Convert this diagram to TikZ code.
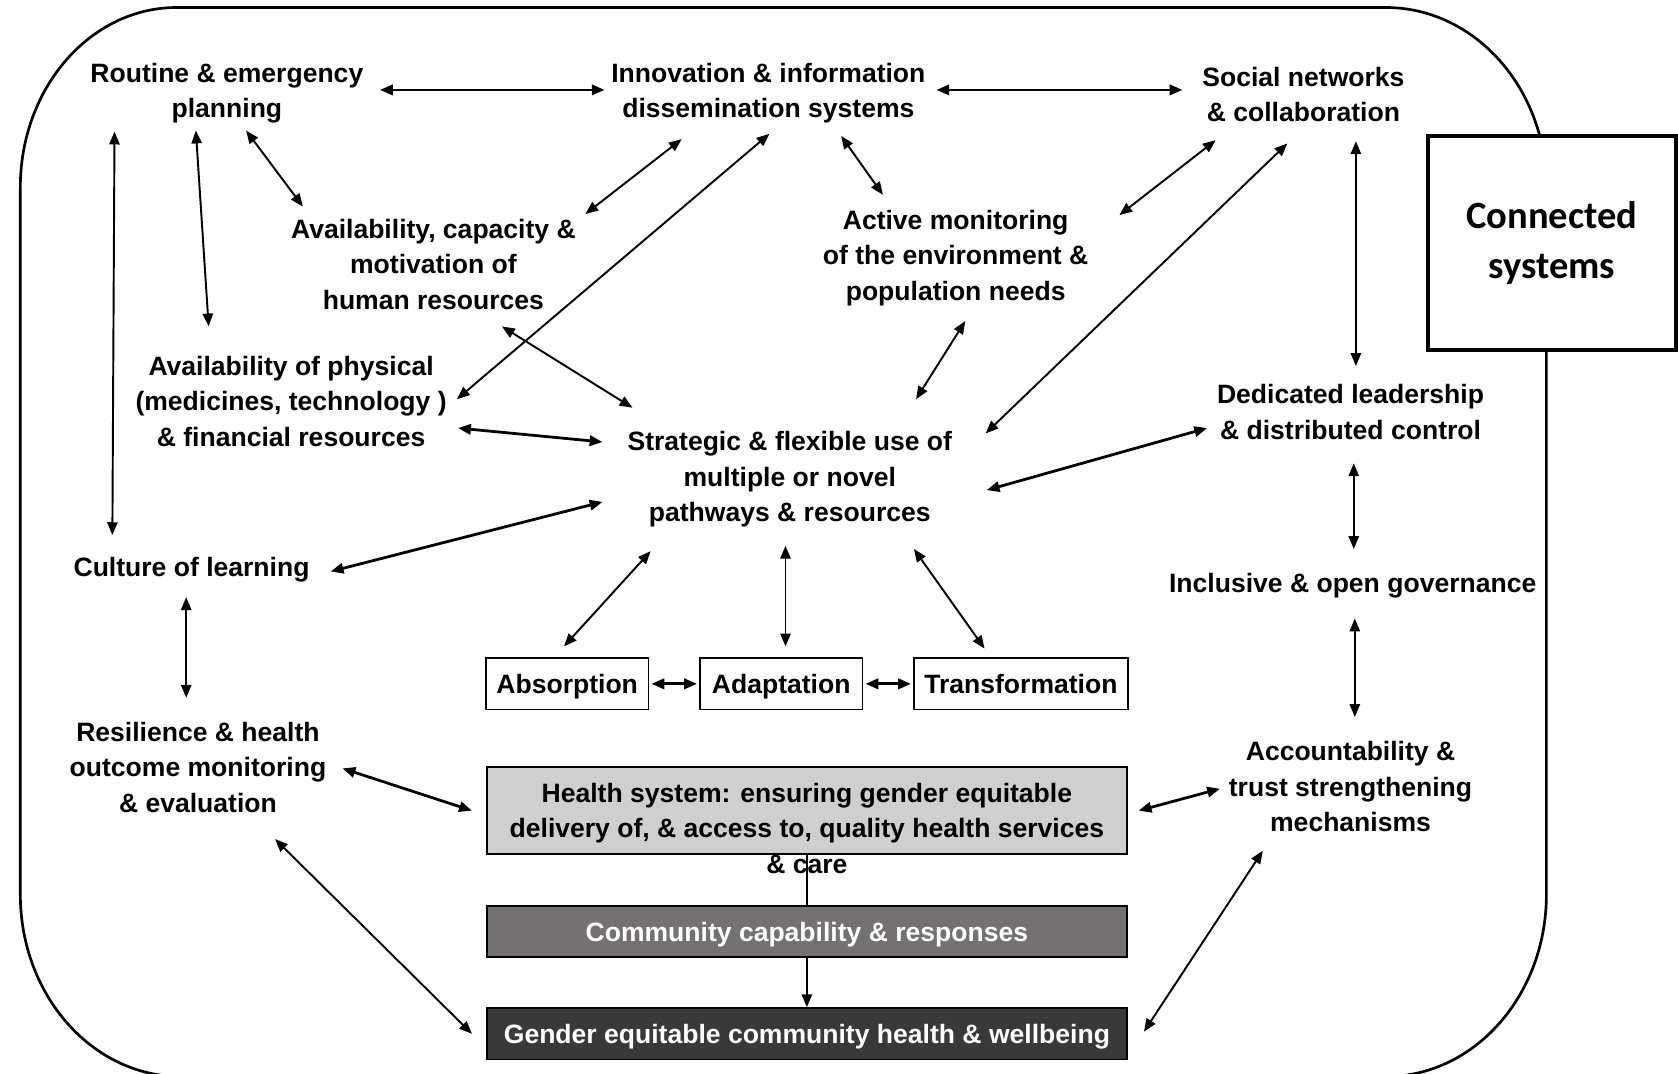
\documentclass[tikz,border=0pt]{standalone}
\usepackage{fontspec}
\setmainfont{Liberation Sans}
\newfontfamily\calfont{Carlito}
\usetikzlibrary{arrows.meta}
\newcommand\lblfont{\fontsize{12.4}{16.5}\selectfont\bfseries}
\definecolor{hsgrey}{HTML}{D0CECE}
\definecolor{cmgrey}{HTML}{767171}
\definecolor{gedark}{HTML}{3B3838}
\tikzset{
  lbl/.style={align=center, inner sep=0pt, font=\lblfont},
  stagebox/.style={draw, line width=0.7pt, minimum height=24pt, inner sep=0pt,
    text height=9pt, text depth=0pt, font=\lblfont},
  band/.style={draw, line width=0.9pt, minimum width=299pt, inner sep=0pt,
    text height=9pt, text depth=0pt, font=\lblfont},
  arr/.style={{Triangle[length=6pt,width=4.8pt]}-{Triangle[length=6pt,width=4.8pt]}, line width=0.9pt},
  arrthick/.style={arr, line width=1.3pt},
}
\begin{document}
\begin{tikzpicture}[x=0.5pt, y=-0.5pt]
\useasboundingbox (0,0) rectangle (1568,1003);

% outer rounded frame
\draw[line width=1.25pt]
  (165,7) -- (1295,7)
  .. controls (1377.8,7) and (1445,82.2) .. (1445,175)
  -- (1445,836)
  .. controls (1445,929.9) and (1377.8,1006) .. (1295,1006)
  -- (169,1006)
  .. controls (86.2,1006) and (19,929.9) .. (19,836)
  -- (19,175)
  .. controls (19,82.2) and (84.4,7) .. (165,7) -- cycle;

% title box
\node[draw, fill=white, line width=1.9pt, minimum width=116pt, minimum height=100.25pt,
      align=center, font=\calfont\fontsize{18}{23.5}\selectfont\bfseries]
  (connected) at (1450,227) {Connected\\systems};

% factor labels
\node[lbl] (routine)  at (212,87)  {Routine \& emergency\\planning};
\node[lbl] (innov)    at (718,87)  {Innovation \& information\\dissemination systems};
\node[lbl] (social)   at (1218,88) {Social networks\\\& collaboration};
\node[lbl] (capac)    at (405,247) {Availability, capacity \&\\motivation of\\human resources};
\node[lbl] (active)   at (893,241) {Active monitoring\\of the environment \&\\population needs};
\node[lbl] (phys)     at (272,375) {Availability of physical\\(medicines, technology )\\\& financial resources};
\node[lbl] (strat)    at (738,448) {Strategic \& flexible use of\\multiple or novel\\pathways \& resources};
\node[lbl] (lead)     at (1262,385) {Dedicated leadership\\\& distributed control};
\node[lbl] (culture)  at (179,532) {Culture of learning};
\node[lbl] (incl)     at (1264,547) {Inclusive \& open governance};
\node[lbl] (resil)    at (185,717) {Resilience \& health\\outcome monitoring\\\& evaluation};
\node[lbl] (account)  at (1262,735) {Accountability \&\\trust strengthening\\mechanisms};

% capacities
\node[stagebox, minimum width=76pt]  (absorb) at (530,639) {Absorption};
\node[stagebox, minimum width=76pt]  (adapt)  at (730,639) {Adaptation};
\node[stagebox, minimum width=100pt] (transf) at (954,639) {Transformation};

% system levels
\node[band, fill=hsgrey, minimum height=40.5pt] (health) at (754,757.5) {};
\node[lbl] (healthtxt) at (754,774) {Health system: ensuring gender equitable\\delivery of, \& access to, quality health services\\\& care};
\node[band, fill=cmgrey, minimum height=24pt, text=white] (community) at (754,870.5) {Community capability \& responses};
\node[band, fill=gedark, minimum height=24pt, text=white] (gender) at (754,966) {Gender equitable community health \& wellbeing};

% links between factors
\draw[arrthick] ([shift={(143,-3)}]routine.center) -- ([shift={(-153,-3)}]innov.center);
\draw[arrthick] ([shift={(157,-3)}]innov.center) -- ([shift={(-113,-4)}]social.center);
\draw[arr] ([shift={(-105,36)}]routine.center) -- ([shift={(-74,-32)}]culture.center);
\draw[arr] ([shift={(-29,35)}]routine.center) -- ([shift={(-77,-70)}]phys.center);
\draw[arr] ([shift={(18,35)}]routine.center) -- ([shift={(-122,-54)}]capac.center);
\draw[arr] ([shift={(-81,43)}]innov.center) -- ([shift={(142,-47)}]capac.center);
\draw[arr] ([shift={(1,38)}]innov.center) -- ([shift={(155,-2)}]phys.center);
\draw[arr] ([shift={(68,40)}]innov.center) -- ([shift={(-68,-59)}]active.center);
\draw[arr] ([shift={(-82,43)}]social.center) -- ([shift={(153,-40)}]active.center);
\draw[arr] ([shift={(-15,46)}]social.center) -- ([shift={(183,-43)}]strat.center);
\draw[arr] ([shift={(49,44)}]social.center) -- ([shift={(5,-43)}]lead.center);
\draw[arr] ([shift={(64,58)}]capac.center) -- ([shift={(-147,-67)}]strat.center);
\draw[arr] ([shift={(9,59)}]active.center) -- ([shift={(118,-75)}]strat.center);
\draw[arrthick] ([shift={(156,25)}]phys.center) -- ([shift={(-175,-35)}]strat.center);
\draw[arrthick] ([shift={(-134,15)}]lead.center) -- ([shift={(184,10)}]strat.center);
\draw[arrthick] ([shift={(130,2)}]culture.center) -- ([shift={(-175,21)}]strat.center);
\draw[arr] ([shift={(3,48)}]lead.center) -- ([shift={(1,-34)}]incl.center);
\draw[arr] ([shift={(2,31)}]incl.center) -- ([shift={(4,-65)}]account.center);
\draw[arr] ([shift={(-5,26)}]culture.center) -- ([shift={(-11,-65)}]resil.center);

% links to the capacities
\draw[arr] ([shift={(-130,67)}]strat.center) -- ([shift={(-3,-35)}]absorb.center);
\draw[arr] ([shift={(-4,62)}]strat.center) -- ([shift={(4,-35)}]adapt.center);
\draw[arr] ([shift={(116,65)}]strat.center) -- ([shift={(-34,-33)}]transf.center);
\draw[arrthick, shorten <=1pt, shorten >=1pt] (absorb.east) -- (adapt.west);
\draw[arrthick, shorten <=1pt, shorten >=1pt] (adapt.east) -- (transf.west);

% links to the system levels
\draw[arrthick] ([shift={(135,1)}]resil.center) -- ([shift={(-313,0)}]health.center);
\draw[arr] ([shift={(72,67)}]resil.center) -- ([shift={(-313,0)}]gender.center);
\draw[arrthick] ([shift={(310,0)}]health.center) -- ([shift={(-122,2)}]account.center);
\draw[arr] ([shift={(-82,60)}]account.center) -- ([shift={(315,-2)}]gender.center);
\draw[line width=0.9pt] (health.south) -- (community.north);
\draw[line width=0.9pt, -{Triangle[length=6pt,width=4.8pt]}] (community.south) -- (gender.north);
\end{tikzpicture}
\end{document}
